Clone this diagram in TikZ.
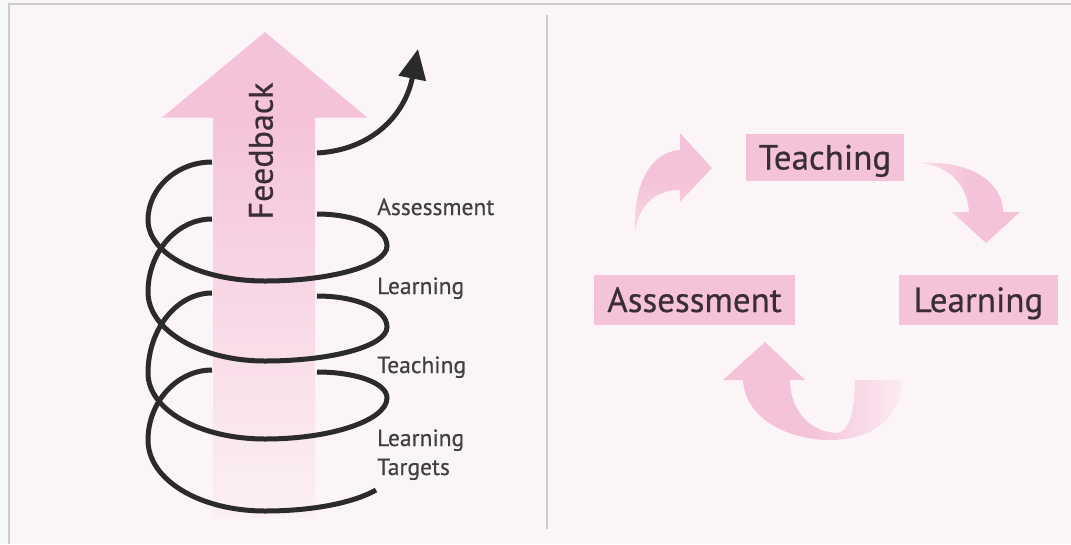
\documentclass[tikz,border=0pt]{standalone}
\usepackage{fontspec}
\setmainfont{PT Sans}[FakeBold=0.5]
\usetikzlibrary{arrows.meta}
\definecolor{bgpink}{HTML}{FCF5F8}
\definecolor{pinkA}{HTML}{F5C3D9}
\definecolor{framegray}{HTML}{CDCDCD}
\definecolor{inkdark}{HTML}{3A2E34}
\definecolor{helixcol}{HTML}{2B2B2B}
\tikzset{
  helixline/.style={draw=helixcol, line width=5pt},
  lbl/.style={anchor=base west, inner sep=0pt, font=\fontsize{23.5}{28}\selectfont, text=helixcol!90},
  stagebox/.style={fill=pinkA, inner sep=0pt, font=\fontsize{35}{40}\selectfont, text=inkdark, text height=24pt, text depth=0pt},
}
\begin{document}
\begin{tikzpicture}[x=1pt,y=-1pt]
\useasboundingbox (0,0) rectangle (1071,544);
\fill[white!97!black] (0,0) rectangle (1071,544);
\fill[bgpink] (9,4) rectangle (1071,544);
\draw[framegray, line width=2.5pt] (8,4) -- (1071,4);
\draw[framegray, line width=2pt] (9,3) -- (9,544);
\draw[framegray, line width=2pt] (547,15) -- (547,529);

% Feedback arrow
\fill[pinkA] (162,117.5) -- (265,32) -- (367,117.5) -- cycle;
\shade[top color=pinkA, bottom color=pinkA!10!bgpink] (213,117) rectangle (315,517);
\node[rotate=90, font=\fontsize{34}{40}\selectfont, text=inkdark, inner sep=0pt] (fb) at (261,151) {Feedback};

% helix pieces
\draw[helixline] (212,162) .. controls (177,162) and (148,188) .. (148,220)
  .. controls (148,254) and (200,281) .. (265,281)
  .. controls (332,281) and (387,265) .. (387,246)
  .. controls (387,228) and (356,214) .. (317,214);
\draw[helixline] (212,219) .. controls (177,219) and (148,252) .. (148,292)
  .. controls (148,330) and (200,361) .. (265,361)
  .. controls (332,361) and (387,346) .. (387,327)
  .. controls (387,309) and (356,296) .. (317,296);
\draw[helixline] (212,293) .. controls (177,293) and (148,329) .. (148,373)
  .. controls (148,410) and (200,439) .. (265,439)
  .. controls (332,439) and (387,420) .. (387,398)
  .. controls (387,383) and (356,372) .. (317,372);
\draw[helixline] (212,370) .. controls (177,370) and (148,402) .. (148,440)
  .. controls (148,480) and (200,511) .. (265,511)
  .. controls (315,511) and (355,502) .. (376,490);
\draw[helixline, -{Triangle[length=30pt,width=27pt]}] (317,153) .. controls (372,150) and (405,115) .. (418,49);

% left labels
\node[lbl] (l1) at (377,215) {Assessment};
\node[lbl] (l2) at (377,294) {Learning};
\node[lbl] (l3) at (377,373) {Teaching};
\node[lbl] (l4a) at (377,446) {Learning};
\node[lbl] (l4b) at (377,475) {Targets};

% right cycle
\node[stagebox, minimum width=158pt, minimum height=47pt] (teach) at (825,157.5) {Teaching};
\node[stagebox, minimum width=201pt, minimum height=50pt] (assess) at (694.5,300) {Assessment};
\node[stagebox, minimum width=159pt, minimum height=50pt] (learn) at (978.5,300) {Learning};

\shade[bottom color=pinkA!55!bgpink, top color=pinkA, middle color=pinkA]
  (635,232) .. controls (633,185) and (650,152) .. (680,150) -- (680,133) -- (712,168) -- (680,202) -- (680,190)
  .. controls (660,190) and (640,200) .. (635,232) -- cycle;
\shade[left color=pinkA!50!bgpink, right color=pinkA, middle color=pinkA]
  (920,163) .. controls (975,160) and (1003,185) .. (1003,212) -- (1020,212) -- (986,243) -- (952,212) -- (969,212)
  .. controls (967,185) and (950,166) .. (920,163) -- cycle;
\shade[left color=pinkA, right color=pinkA!18!bgpink, middle color=pinkA]
  (743,380) .. controls (745,420) and (790,440) .. (830,440)
  .. controls (875,440) and (902,415) .. (902,380) -- (855,380)
  .. controls (855,410) and (850,430) .. (838,433)
  .. controls (812,433) and (790,412) .. (790,380) -- (805,380) -- (765,342) -- (723,380) -- cycle;
\end{tikzpicture}
\end{document}
